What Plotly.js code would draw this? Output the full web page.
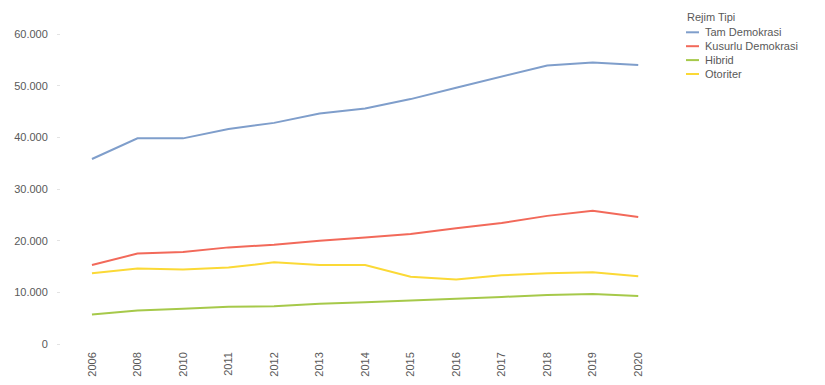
<!DOCTYPE html>
<html>
<head>
<meta charset="utf-8">
<script src="https://cdn.plot.ly/plotly-3.0.1.min.js"></script>
<style>
  html, body { margin: 0; padding: 0; background: #fff; }
  #chart { width: 825px; height: 385px; }
</style>
</head>
<body>
<div id="chart"></div>
<script>
// ---- Data ----
const years = ['2006','2008','2010','2011','2012','2013','2014','2015','2016','2017','2018','2019','2020'];
const tamDemokrasi     = [35800, 39800, 39800, 41600, 42800, 44600, 45600, 47400, 49600, 51700, 53900, 54500, 54000];
const kusurluDemokrasi = [15300, 17500, 17800, 18700, 19200, 20000, 20600, 21300, 22400, 23400, 24800, 25800, 24600];
const hibrid           = [5700, 6500, 6800, 7200, 7300, 7800, 8100, 8400, 8800, 9100, 9500, 9700, 9300];
const otoriter         = [13700, 14600, 14400, 14800, 15800, 15300, 15300, 13000, 12500, 13300, 13700, 13900, 13100];

const seriesNames  = ['Tam Demokrasi', 'Kusurlu Demokrasi', 'Hibrid', 'Otoriter'];
const seriesValues = [tamDemokrasi, kusurluDemokrasi, hibrid, otoriter];
const seriesColors = ['#7f9ecb', '#f2695a', '#a6c94a', '#fbd936'];
const legendTitle  = 'Rejim Tipi';
const yTickVals    = [0, 10000, 20000, 30000, 40000, 50000, 60000];

// ---- Layout geometry ----
const W = 825, H = 385;
const M = { l: 61, r: 164, t: 34, b: 41 };
const PW = W - M.l - M.r, PH = H - M.t - M.b;
const px = x => (x - M.l) / PW;
const py = y => (H - M.b - y) / PH;

const font = 'Liberation Sans, Arial, sans-serif';
const textColor = '#595959';

const traces = seriesNames.map((name, i) => ({
  type: 'scatter',
  mode: 'lines',
  name: name,
  x: years,
  y: seriesValues[i],
  line: { color: seriesColors[i], width: 2 },
  showlegend: false,
  hoverinfo: 'skip'
}));

// Custom compact legend (real text)
const annotations = [{
  xref: 'paper', yref: 'paper', x: px(685), y: py(16.5),
  xanchor: 'left', yanchor: 'middle', showarrow: false,
  text: legendTitle, font: { family: font, size: 11, color: textColor }
}];
const shapes = [];
seriesNames.forEach((name, i) => {
  const yy = 32.3 + i * 13.9;
  shapes.push({
    type: 'line', xref: 'paper', yref: 'paper',
    x0: px(686), x1: px(699), y0: py(yy), y1: py(yy),
    line: { color: seriesColors[i], width: 2 }
  });
  annotations.push({
    xref: 'paper', yref: 'paper', x: px(703), y: py(yy),
    xanchor: 'left', yanchor: 'middle', showarrow: false,
    text: name, font: { family: font, size: 11, color: textColor }
  });
});

const layout = {
  width: W, height: H,
  margin: M,
  paper_bgcolor: '#ffffff',
  plot_bgcolor: '#ffffff',
  separators: ',.',
  font: { family: font, size: 11, color: textColor },
  showlegend: false,
  hovermode: false,
  xaxis: {
    type: 'category',
    range: [-0.68, 12.5],
    showgrid: false, zeroline: false, showline: false,
    ticks: '', tickangle: -90,
    ticklabelstandoff: 5,
    tickfont: { family: font, size: 11, color: textColor },
    automargin: false, fixedrange: true
  },
  yaxis: {
    range: [0, 60000],
    tickvals: yTickVals,
    tickformat: ',d',
    showgrid: false, zeroline: false, showline: false,
    ticks: 'outside', ticklen: 3, tickcolor: '#e3e3e3', tickwidth: 1,
    ticklabelstandoff: 7,
    tickfont: { family: font, size: 11, color: textColor },
    automargin: false, fixedrange: true
  },
  annotations: annotations,
  shapes: shapes
};

Plotly.newPlot('chart', traces, layout, { staticPlot: true, displayModeBar: false });
</script>
</body>
</html>
